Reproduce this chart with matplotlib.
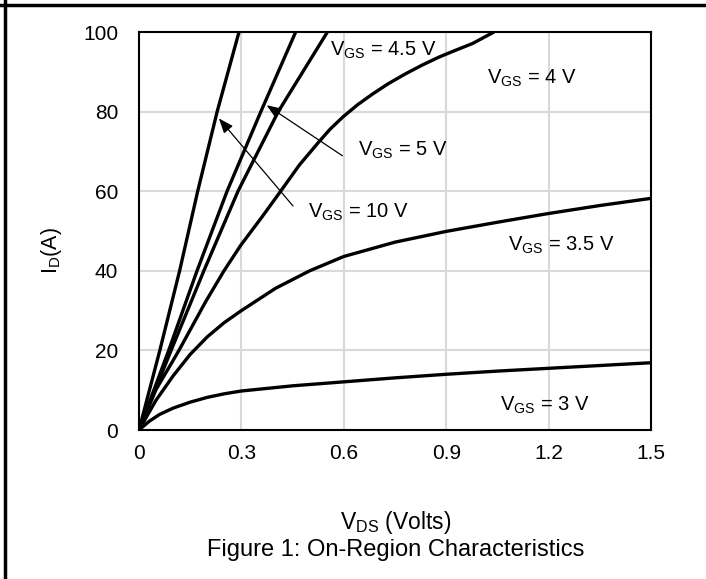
import matplotlib
matplotlib.use("Agg")
import matplotlib.pyplot as plt
from matplotlib.lines import Line2D

plt.rcParams['font.family'] = ['Liberation Sans', 'DejaVu Sans']
plt.rcParams['mathtext.fontset'] = 'custom'
plt.rcParams['mathtext.rm'] = 'Liberation Sans'
plt.rcParams['mathtext.it'] = 'Liberation Sans'
plt.rcParams['mathtext.default'] = 'regular'

# ---- data ----
v_10 = [0, 0.061, 0.119, 0.172, 0.229, 0.293]
i_10 = [0, 20, 40, 60, 80, 100]

v_5 = [0, 0.087, 0.170, 0.258, 0.357, 0.459]
i_5 = [0, 20, 40, 60, 80, 100]

v_45 = [0, 0.094, 0.19, 0.29, 0.408, 0.552]
i_45 = [0, 20, 40, 60, 80, 100]

v_4 = [0, 0.05, 0.098, 0.117, 0.195, 0.249, 0.298, 0.36, 0.415, 0.47, 0.527, 0.56, 0.598, 0.64, 0.684, 0.73, 0.781, 0.83, 0.879, 0.93, 0.977, 1.04]
i_4 = [0, 10.2, 17.2, 20, 32.2, 40, 46.4, 53.5, 60, 66.6, 72.4, 75.6, 78.7, 81.7, 84.4, 87.0, 89.5, 91.7, 93.7, 95.5, 97.1, 100]

v_35 = [0, 0.05, 0.1, 0.15, 0.2, 0.25, 0.3, 0.4, 0.5, 0.6, 0.75, 0.9, 1.05, 1.2, 1.35, 1.5]
i_35 = [0, 7.5, 13.6, 19.0, 23.4, 27.0, 30.0, 35.6, 40.0, 43.6, 47.2, 49.9, 52.2, 54.4, 56.4, 58.2]

v_3 = [0, 0.03, 0.06, 0.1, 0.15, 0.2, 0.25, 0.3, 0.45, 0.6, 0.75, 0.9, 1.05, 1.2, 1.35, 1.5]
i_3 = [0, 2.2, 3.9, 5.5, 7.0, 8.2, 9.1, 9.8, 11.1, 12.1, 13.1, 14.0, 14.8, 15.5, 16.2, 16.9]

x_ticks = [0, 0.3, 0.6, 0.9, 1.2, 1.5]
x_tick_labels = ['0', '0.3', '0.6', '0.9', '1.2', '1.5']
y_ticks = [0, 20, 40, 60, 80, 100]

labels = ['V$_{GS}$ = 4.5 V', 'V$_{GS}$ = 4 V', 'V$_{GS}$ = 5 V',
          'V$_{GS}$ = 10 V', 'V$_{GS}$ = 3.5 V', 'V$_{GS}$ = 3 V']
label_pos = [(0.56, 95.5), (1.019, 88.4), (0.642, 70.2),
             (0.496, 54.8), (1.082, 46.5), (1.058, 6.3)]

# arrows: (tail, tip)
arrows = [((0.451, 56.3), (0.234, 78.3)),
          ((0.596, 68.9), (0.374, 81.6))]

W, H = 706, 579
fig = plt.figure(figsize=(W / 100, H / 100), dpi=100)
fig.patch.set_facecolor('white')
ax = fig.add_axes([139 / W, 1 - 430 / H, (651 - 139) / W, (430 - 32) / H])

curves = [(v_10, i_10), (v_5, i_5), (v_45, i_45), (v_4, i_4), (v_35, i_35), (v_3, i_3)]
for v, i in curves:
    ax.plot(v, i, color='black', lw=2.4, solid_capstyle='butt', solid_joinstyle='round', zorder=3)

ax.set_xlim(0, 1.5)
ax.set_ylim(0, 100)
ax.set_xticks(x_ticks)
ax.set_xticklabels(x_tick_labels)
ax.set_yticks(y_ticks)
ax.tick_params(length=0, labelsize=15)
ax.tick_params(axis='x', pad=10)
ax.tick_params(axis='y', pad=15)
ax.grid(True, color='#d9d9d9', lw=1.5, zorder=0)
ax.set_axisbelow(True)
for s in ax.spines.values():
    s.set_color('black')
    s.set_linewidth(1.5)

for txt, (x, y) in zip(labels, label_pos):
    ax.text(x, y, txt, fontsize=14.5, ha='left', va='center', zorder=5)

for (tail, tip) in arrows:
    ax.annotate('', xy=tip, xytext=tail,
                arrowprops=dict(arrowstyle='-|>,head_length=0.9,head_width=0.35',
                                color='black', lw=0.9, shrinkA=0, shrinkB=0),
                zorder=4)

fig.text(51 / W, 1 - 251 / H, 'I$_D$(A)', rotation=90, fontsize=15.5,
         ha='center', va='center')
fig.text(396 / W, 1 - 523 / H, 'V$_{DS}$ (Volts)', fontsize=16.5, ha='center', va='center')
fig.text(396 / W, 1 - 550 / H, 'Figure 1: On-Region Characteristics', fontsize=17,
         ha='center', va='center')

# partial figure border (left and top)
fig.add_artist(Line2D([4.5 / W, 4.5 / W], [0, 1], transform=fig.transFigure, color='black', lw=2.5))
fig.add_artist(Line2D([0, 1], [1 - 4.5 / H, 1 - 4.5 / H], transform=fig.transFigure, color='black', lw=2.5))

fig.savefig('out.png', dpi=100, facecolor='white')
